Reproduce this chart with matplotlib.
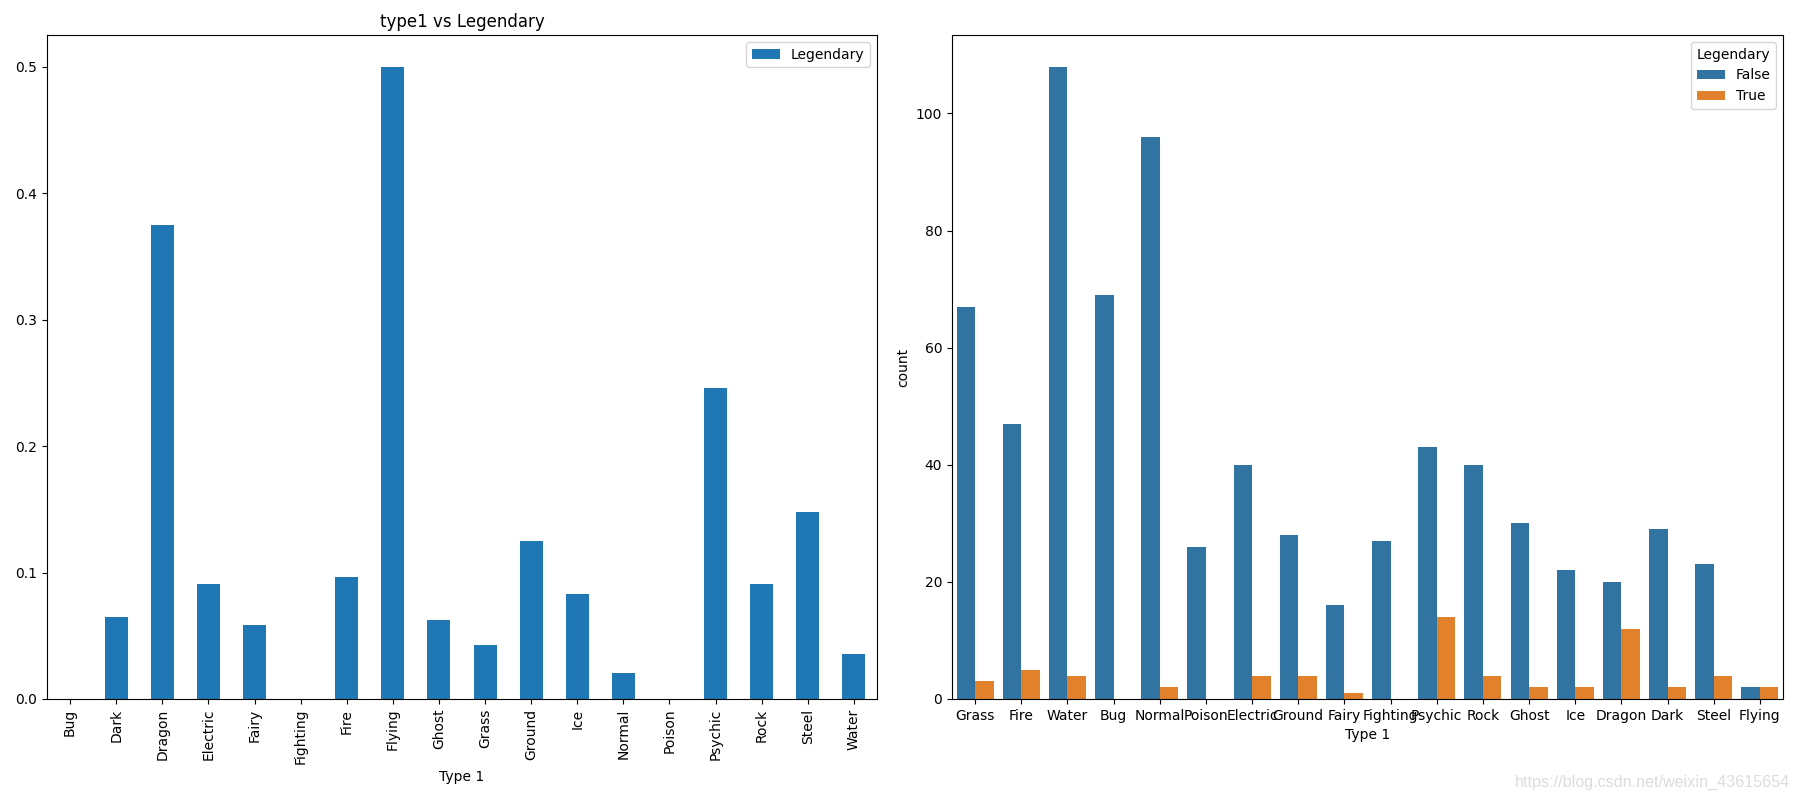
import matplotlib
matplotlib.use("Agg")
import matplotlib.pyplot as plt
import numpy as np

# Left chart: ratio of legendary per Type 1 (alphabetical)
left_types = ["Bug", "Dark", "Dragon", "Electric", "Fairy", "Fighting", "Fire", "Flying",
              "Ghost", "Grass", "Ground", "Ice", "Normal", "Poison", "Psychic", "Rock",
              "Steel", "Water"]
left_ratio = [0.0, 0.0645, 0.375, 0.0909, 0.0588, 0.0, 0.0962, 0.5,
              0.0625, 0.0429, 0.125, 0.0833, 0.0204, 0.0, 0.2456, 0.0909,
              0.1481, 0.0357]

# Right chart: counts per Type 1 split by Legendary
right_types = ["Grass", "Fire", "Water", "Bug", "Normal", "Poison", "Electric", "Ground",
               "Fairy", "Fighting", "Psychic", "Rock", "Ghost", "Ice", "Dragon", "Dark",
               "Steel", "Flying"]
count_false = [67, 47, 108, 69, 96, 26, 40, 28, 16, 27, 43, 40, 30, 22, 20, 29, 23, 2]
count_true = [3, 5, 4, 0, 2, 0, 4, 4, 1, 0, 14, 4, 2, 2, 12, 2, 4, 2]
hue_labels = ["False", "True"]

fig = plt.figure(figsize=(18, 8), dpi=100)
ax1 = fig.add_axes([47/1800, 1-699/800, (877-47)/1800, (699-35)/800])
ax2 = fig.add_axes([952/1800, 1-699/800, (1783-952)/1800, (699-35)/800])

x1 = np.arange(len(left_types))
ax1.bar(x1, left_ratio, width=0.5, color="#1f77b4", label="Legendary")
ax1.set_xlim(-0.5, len(left_types) - 0.5)
ax1.set_xticks(x1)
ax1.set_xticklabels(left_types, rotation=90)
ax1.set_xlabel("Type 1")
ax1.set_title("type1 vs Legendary")
ax1.legend(loc="upper right")

x2 = np.arange(len(right_types))
ax2.bar(x2 - 0.2, count_false, width=0.4, color="#3274a1", label=hue_labels[0])
ax2.bar(x2 + 0.2, count_true, width=0.4, color="#e1812c", label=hue_labels[1])
ax2.set_xlim(-0.5, len(right_types) - 0.5)
ax2.set_xticks(x2)
ax2.set_xticklabels(right_types)
ax2.set_xlabel("Type 1")
ax2.set_ylabel("count")
ax2.legend(title="Legendary", loc="upper right")

fig.text(0.9944, 0.022, "https://blog.csdn.net/weixin_43615654", ha="right", va="center",
         fontsize=11.6, color="#dcdcdc", family=["Liberation Sans", "DejaVu Sans"])

fig.savefig("out.png", dpi=100)
